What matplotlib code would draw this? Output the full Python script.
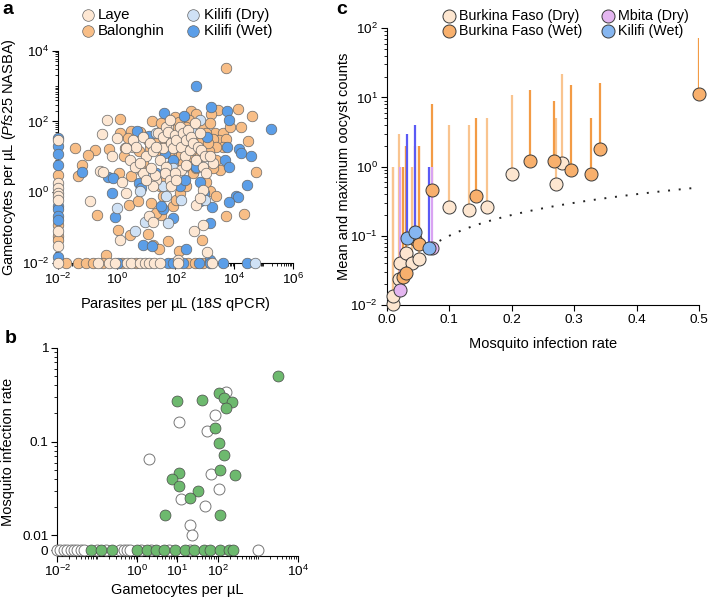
import numpy as np
import matplotlib
matplotlib.use('Agg')
import matplotlib.pyplot as plt
from matplotlib.ticker import LogLocator, NullFormatter, FixedLocator

plt.rcParams['font.family'] = ['Liberation Sans', 'DejaVu Sans']
plt.rcParams['mathtext.fontset'] = 'custom'
plt.rcParams['mathtext.rm'] = 'Liberation Sans'
plt.rcParams['mathtext.it'] = 'Liberation Sans:italic'
plt.rcParams['font.size'] = 9.7
plt.rcParams['axes.labelsize'] = 10.5

# ---------- panel a: log10(parasites/uL), log10(gametocytes/uL) ----------
laye = [(-0.35, 2.04), (-0.49, 1.65), (1.75, 1.84), (-0.01, 1.53), (0.56, 1.29), (1.58, 1.24),
        (1.86, 1.48), (1.98, 1.29), (-0.18, 1.01), (-0.58, 0.61), (-0.47, 0.58), (0.16, 0.30),
        (0.33, -0.03), (-0.90, -0.26), (1.10, -0.67), (1.24, -0.83), (0.10, -1.36), (2.09, -1.91),
        (3.09, -1.70), (2.62, -1.09), (2.94, -0.92), (2.94, 0.07), (2.71, -0.36),
        (0.56, 1.48), (0.67, 1.29), (0.90, 1.57), (1.01, 1.01), (1.12, 1.38), (1.24, 1.15),
        (1.35, 1.29), (1.41, 1.67), (1.46, 0.91), (1.58, 1.57), (1.69, 1.85), (1.75, 1.71),
        (1.80, 2.04), (1.86, 1.38), (1.92, 1.24), (1.98, 1.62), (2.03, 1.48), (2.15, 1.85),
        (2.20, 1.29), (2.26, 1.67), (2.32, 1.01), (2.37, 1.48), (2.43, 1.76), (2.49, 1.19),
        (2.54, 1.57), (2.60, 1.38), (2.66, 1.95), (2.71, 0.91), (2.77, 1.29), (2.83, 1.67),
        (2.88, 1.19), (2.94, 0.72), (3.00, 1.01),
        (1.69, 0.72), (1.63, 0.54), (1.80, 0.35), (1.86, 0.16), (1.35, 0.35), (1.24, 0.16),
        (1.29, 0.49), (0.90, 0.54), (1.01, 0.35), (1.18, 0.68), (0.44, 0.91), (0.61, 0.72),
        (0.78, 0.82), (0.33, 1.24), (2.83, -0.17), (3.28, 0.82), (3.05, 0.54), (3.17, 1.01),
        (2.20, 0.63), (2.37, 0.77), (1.98, 0.54), (2.03, 0.35)]
laye_left = [1.48, 0.26, 0.11, -0.03, -0.12, -0.21, -1.11, -1.53]
laye_bottom = [-2.0, -0.64, -0.26, -0.07, 0.35, 0.50, 0.78, 0.95, 1.10, 1.26, 1.46, 2.09, 3.26]

balonghin = [(3.73, 3.51), (3.45, 2.32), (4.13, 2.34), (4.61, 2.15), (4.75, 0.56), (4.32, -0.61),
             (3.71, -0.66), (2.92, -1.36), (2.12, -1.67), (0.12, 2.06), (1.21, 2.02), (1.98, 2.12),
             (0.47, 1.74), (0.12, 1.68), (0.84, 1.65), (1.49, 1.74), (2.03, 1.78), (0.39, 1.52),
             (-1.43, 1.24), (-0.75, 1.18), (-0.98, 1.05), (-0.26, 1.21), (0.27, 1.24), (0.76, 1.15),
             (1.24, 1.19), (0.24, 1.03), (-1.18, 0.77), (-1.32, 0.46), (0.08, 0.54), (0.47, 0.46),
             (0.42, -0.36), (0.73, -0.26), (-0.69, -0.64), (1.52, -0.64), (0.05, -1.06), (0.44, -1.20),
             (1.07, -1.18), (1.24, -1.49), (1.75, -1.39), (1.44, -1.61), (-0.37, -1.77), (2.54, 2.28),
             (2.71, 2.21), (3.22, 2.21), (2.12, 1.97), (2.46, 2.04), (2.94, 1.90), (3.17, 1.95),
             (3.34, 1.68), (3.62, 1.68), (3.48, 1.48), (3.73, 1.50), (3.28, 1.50), (3.62, 1.29),
             (3.39, 1.27), (3.14, 1.15), (3.87, 1.83), (4.22, 1.85), (4.47, 1.46), (3.53, 0.63),
             (3.17, 0.02), (3.39, -0.12), (0.78, 1.71), (1.07, 1.48), (1.29, 1.52), (1.46, 1.19),
             (1.63, 1.38), (1.69, 1.15), (1.92, 1.01), (2.09, 1.15), (2.20, 1.05), (2.37, 1.29),
             (2.49, 1.01), (2.60, 1.19), (2.71, 1.48), (2.83, 1.38), (3.05, 1.67), (3.11, 1.38),
             (2.37, 1.85), (2.15, 1.57), (2.26, 0.82), (2.49, 0.72), (2.60, 0.54), (2.71, 0.68),
             (2.83, 1.01), (3.39, 0.91), (1.52, 1.95), (1.12, 1.24), (0.90, 0.82), (0.84, 0.63),
             (1.69, 0.35), (1.46, 0.16), (1.58, -0.12), (1.18, -0.31), (1.35, -0.59), (1.92, -0.40),
             (2.03, -0.22), (2.15, -0.03), (2.37, 0.16), (1.86, 0.77), (3.28, 0.68), (3.05, 0.30)]
balonghin_left = [0.49, -0.92, -1.25, -1.34]
balonghin_bottom = [-1.72, -1.32, -1.04, -0.81, -0.47, 0.19, 0.64, 2.43, 2.65, 2.94]

kilifi_wet = [(2.69, 3.00), (1.60, 2.23), (3.22, 2.42), (3.77, 2.28), (3.83, 2.04), (5.26, 1.78),
              (3.75, 1.27), (4.16, 1.22), (4.24, 1.10), (4.59, 1.01), (3.68, 0.91), (3.83, 0.72),
              (4.43, 0.19), (4.05, -0.12), (4.13, -0.14), (3.83, -0.29), (3.25, -0.42), (3.19, -0.87),
              (2.37, -1.61), (3.17, -1.91), (2.30, 2.16), (3.08, 1.55), (0.69, 1.74), (1.10, 1.59),
              (-1.20, 0.56), (-0.30, 0.44), (-0.12, 0.40), (0.76, 0.25), (0.81, 0.11), (-0.18, -0.01),
              (-0.07, -0.69), (1.58, -0.48), (0.90, -1.49), (1.20, -1.53), (2.85, 0.30), (2.96, -0.03),
              (2.83, -0.26), (1.63, 1.10), (1.92, 0.91), (2.15, 0.16), (2.32, 0.35), (2.71, 0.72),
              (1.35, 0.54), (1.24, 0.30), (1.52, -0.40), (1.92, -0.73)]
kilifi_wet_left = [1.53, 1.31, 1.08, 0.77, -0.40, -0.48, -0.68, -0.78, -1.82]
kilifi_wet_bottom = [0.04, 1.75, 1.92, 2.26, 2.80, 3.16, 3.62, 4.45]

kilifi_dry = [(1.33, 1.68), (0.99, 0.42), (1.58, 0.16), (1.69, -0.12), (2.20, -0.22), (0.78, 0.02),
              (-0.01, -0.45), (0.61, -1.11), (0.95, -0.83), (1.75, -0.86), (1.92, 0.68), (2.60, 1.67),
              (2.83, 2.04), (3.00, -0.22)]
kilifi_dry_left = []
kilifi_dry_bottom = [4.70]

# ---------- panel b: gametocytes/uL vs mosquito infection rate ----------
green_gam = [3300, 9.5, 42, 107, 145, 224, 162, 89, 110, 145, 115, 270, 11, 7.1, 11, 33, 21, 4.9, 115,
             0.068, 0.12, 0.23, 1.0, 1.7, 2.9, 4.6, 8.7, 15.5, 25.7, 45.7, 64.6, 115, 195, 245]
green_rate = [0.50, 0.27, 0.276, 0.33, 0.295, 0.266, 0.23, 0.14, 0.098, 0.073, 0.050, 0.044, 0.046,
              0.040, 0.034, 0.030, 0.025, 0.0164, 0.0164,
              0, 0, 0, 0, 0, 0, 0, 0, 0, 0, 0, 0, 0, 0, 0]
open_gam = [162, 89, 11, 54, 2.0, 68, 107, 12.6, 50, 21, 23,
            0.01, 0.012, 0.0148, 0.0178, 0.0214, 0.0263, 0.0316, 0.038, 0.047, 0.36, 0.45, 0.54,
            0.65, 1050, 0.1, 0.16, 1.26, 2.2, 6.3, 20]
open_rate = [0.34, 0.195, 0.163, 0.131, 0.066, 0.045, 0.031, 0.0245, 0.0204, 0.0129, 0.0102,
             0, 0, 0, 0, 0, 0, 0, 0, 0, 0, 0, 0, 0, 0, 0, 0, 0, 0, 0, 0]

# ---------- panel c: infection rate vs mean / max oocysts ----------
bf_dry_rate = [0.0107, 0.0107, 0.020, 0.0213, 0.031, 0.0405, 0.051, 0.100, 0.131, 0.160, 0.201, 0.271, 0.281]
bf_dry_mean = [0.0102, 0.0135, 0.024, 0.041, 0.056, 0.041, 0.046, 0.26, 0.236, 0.26, 0.78, 0.56, 1.14]
bf_dry_max = [1, 1, 3, 1, 2, 1, 2, 4, 4, 5, 11, 5, 22]
bf_wet_rate = [0.0256, 0.031, 0.046, 0.052, 0.073, 0.143, 0.229, 0.267, 0.294, 0.326, 0.341, 0.500]
bf_wet_mean = [0.025, 0.029, 0.091, 0.076, 0.46, 0.37, 1.21, 1.19, 0.90, 0.78, 1.80, 11.2]
bf_wet_max = [1, 2, 2, 2, 8, 5, 13, 9, 15, 5, 16, 72]
mbita_rate = [0.0213, 0.072]
mbita_mean = [0.0165, 0.067]
mbita_max = [1, 1]
kil_rate = [0.032, 0.045, 0.067]
kil_mean = [0.094, 0.115, 0.066]
kil_max = [3, 4, 1]

ZERO_POS = 0.007
EDGE = '#666666'


def to_xy(pairs, left, bottom):
    lx = [p[0] for p in pairs] + [-2.0] * len(left) + list(bottom)
    ly = [p[1] for p in pairs] + list(left) + [-2.0] * len(bottom)
    return 10 ** np.array(lx), 10 ** np.array(ly)


def style_axis(ax):
    ax.spines['top'].set_visible(False)
    ax.spines['right'].set_visible(False)
    ax.tick_params(which='major', direction='out', length=4, width=0.8, pad=2.5)
    ax.tick_params(which='minor', direction='out', length=2, width=0.6)


fig = plt.figure(figsize=(7.09, 6.03), dpi=100)

# panel a
ax_a = fig.add_axes([0.082, 0.564, 0.331, 0.352])
groups = [
    (balonghin, balonghin_left, balonghin_bottom, '#f8be87', 'Balonghin'),
    (kilifi_wet, kilifi_wet_left, kilifi_wet_bottom, '#5b9ee8', 'Kilifi (Wet)'),
    (kilifi_dry, kilifi_dry_left, kilifi_dry_bottom, '#cfe1f5', 'Kilifi (Dry)'),
    (laye, laye_left, laye_bottom, '#fde7d3', 'Laye'),
]
handles = {}
for pairs, left, bottom, col, name in groups:
    x, y = to_xy(pairs, left, bottom)
    handles[name] = ax_a.scatter(x, y, s=58, color=col, edgecolor=EDGE, linewidth=0.5,
                                 clip_on=False, zorder=3, label=name)
ax_a.set_xscale('log')
ax_a.set_yscale('log')
ax_a.set_xlim(1e-2, 1e6)
ax_a.set_ylim(1e-2, 1e4)
ax_a.xaxis.set_major_locator(FixedLocator([1e-2, 1, 1e2, 1e4, 1e6]))
ax_a.yaxis.set_major_locator(FixedLocator([1e-2, 1, 1e2, 1e4]))
for axis in (ax_a.xaxis, ax_a.yaxis):
    axis.set_minor_locator(LogLocator(base=10, subs=np.arange(1, 10), numticks=30))
    axis.set_minor_formatter(NullFormatter())
style_axis(ax_a)
ax_a.set_xlabel('Parasites per µL ($\\mathit{18S}$ qPCR)')
ax_a.set_ylabel('Gametocytes per µL ($\\mathit{Pfs25}$ NASBA)')
ax_a.xaxis.set_label_coords(0.5, -0.15)
ax_a.yaxis.set_label_coords(-0.172, 0.5)
ax_a.legend(handles=[handles['Laye'], handles['Balonghin'], handles['Kilifi (Dry)'], handles['Kilifi (Wet)']],
            ncol=2, frameon=False, loc='center', bbox_to_anchor=(0.5, 1.13), fontsize=10.8,
            handletextpad=0.1, columnspacing=1.3, labelspacing=0.1, borderpad=0,
            handlelength=1.2, markerscale=1.1)

# panel b
ax_b = fig.add_axes([0.0808, 0.078, 0.339, 0.345])
orate = np.array(open_rate, dtype=float)
grate = np.array(green_rate, dtype=float)
ax_b.scatter(open_gam, np.where(orate == 0, ZERO_POS, orate), s=62, color='white',
             edgecolor='#777777', linewidth=0.7, clip_on=False, zorder=3)
ax_b.scatter(green_gam, np.where(grate == 0, ZERO_POS, grate), s=62, color='#6db96e',
             edgecolor='#4a4a4a', linewidth=0.5, clip_on=False, zorder=4)
ax_b.set_xscale('log')
ax_b.set_yscale('log')
ax_b.set_xlim(1e-2, 1e4)
ax_b.set_ylim(0.00605, 1)
ax_b.xaxis.set_major_locator(FixedLocator([1e-2, 1, 10, 100, 1e4]))
ax_b.xaxis.set_minor_locator(LogLocator(base=10, subs=np.arange(1, 10), numticks=30))
ax_b.xaxis.set_minor_formatter(NullFormatter())
ax_b.yaxis.set_major_locator(FixedLocator([ZERO_POS, 0.01, 0.1, 1]))
ax_b.yaxis.set_minor_locator(FixedLocator([k * 10.0 ** e for e in (-2, -1) for k in range(2, 10)]))
ax_b.yaxis.set_minor_formatter(NullFormatter())
ax_b.set_yticklabels(['0', '0.01', '0.1', '1'])
style_axis(ax_b)
ax_b.tick_params(axis='x', which='major', pad=1.5)
ax_b.set_xlabel('Gametocytes per µL')
ax_b.set_ylabel('Mosquito infection rate')
ax_b.xaxis.set_label_coords(0.5, -0.13)
ax_b.yaxis.set_label_coords(-0.178, 0.5)

# panel c
ax_c = fig.add_axes([0.5454, 0.4942, 0.441, 0.459])
ax_c.vlines(bf_dry_rate, bf_dry_mean, bf_dry_max, color='#f9c48f', linewidth=1.6, zorder=1)
ax_c.vlines(bf_wet_rate, bf_wet_mean, bf_wet_max, color='#f39b45', linewidth=1.6, zorder=1)
ax_c.vlines(mbita_rate, mbita_mean, mbita_max, color='#d9a3f2', linewidth=1.6, zorder=1)
ax_c.vlines(kil_rate, kil_mean, kil_max, color='#5a5af5', linewidth=1.6, zorder=1)
ref = np.linspace(0.07, 0.5, 200)
ax_c.plot(ref, ref, color='#222222', linestyle=(0, (1, 4.5)), linewidth=1.4, zorder=2)
h1 = ax_c.scatter(bf_dry_rate, bf_dry_mean, s=88, color='#fde6d0', edgecolor='#3a3a3a',
                  linewidth=0.7, clip_on=False, zorder=3, label='Burkina Faso (Dry)')
h2 = ax_c.scatter(bf_wet_rate, bf_wet_mean, s=88, color='#f8b06d', edgecolor='#3a3a3a',
                  linewidth=0.7, clip_on=False, zorder=3, label='Burkina Faso (Wet)')
h3 = ax_c.scatter(mbita_rate, mbita_mean, s=88, color='#e4b6f0', edgecolor='#3a3a3a',
                  linewidth=0.7, clip_on=False, zorder=3, label='Mbita (Dry)')
h4 = ax_c.scatter(kil_rate, kil_mean, s=88, color='#86b6f0', edgecolor='#3a3a3a',
                  linewidth=0.7, clip_on=False, zorder=3, label='Kilifi (Wet)')
ax_c.set_yscale('log')
ax_c.set_xlim(0, 0.5)
ax_c.set_ylim(1e-2, 1e2)
ax_c.set_xticks([0, 0.1, 0.2, 0.3, 0.4, 0.5])
ax_c.set_xticklabels(['0.0', '0.1', '0.2', '0.3', '0.4', '0.5'])
ax_c.yaxis.set_major_locator(FixedLocator([1e-2, 1e-1, 1, 10, 100]))
ax_c.yaxis.set_minor_locator(LogLocator(base=10, subs=np.arange(2, 10), numticks=30))
ax_c.yaxis.set_minor_formatter(NullFormatter())
style_axis(ax_c)
ax_c.set_xlabel('Mosquito infection rate')
ax_c.set_ylabel('Mean and maximum oocyst counts')
ax_c.xaxis.set_label_coords(0.5, -0.115)
ax_c.yaxis.set_label_coords(-0.115, 0.5)
ax_c.legend(handles=[h1, h2, h3, h4], ncol=2, frameon=False, loc='center',
            bbox_to_anchor=(0.57, 1.017), fontsize=10.3, handletextpad=0.1, columnspacing=1.2,
            labelspacing=0.1, borderpad=0, handlelength=1.2, markerscale=1.0)

fig.text(0.004, 0.998, 'a', fontsize=14, fontweight='bold', va='top')
fig.text(0.006, 0.452, 'b', fontsize=14, fontweight='bold', va='top')
fig.text(0.474, 0.998, 'c', fontsize=14, fontweight='bold', va='top')

fig.savefig('out.png', dpi=100)
